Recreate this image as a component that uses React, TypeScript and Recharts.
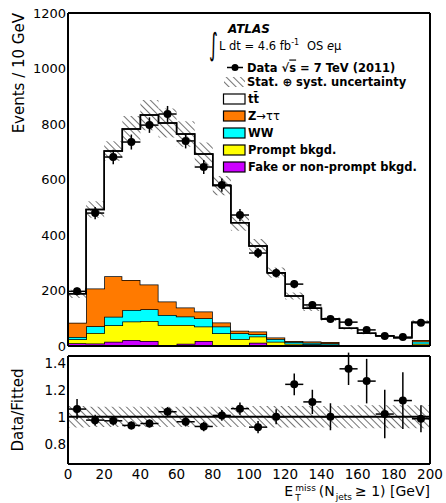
import React from 'react';
import { ComposedChart, Area, Line, Scatter, XAxis, YAxis, ErrorBar, ReferenceLine } from 'recharts';

// bins of 10 GeV, 0-200
const binEdges = [0, 10, 20, 30, 40, 50, 60, 70, 80, 90, 100, 110, 120, 130, 140, 150, 160, 170, 180, 190, 200];
const binCenters = [5, 15, 25, 35, 45, 55, 65, 75, 85, 95, 105, 115, 125, 135, 145, 155, 165, 175, 185, 195];

// stacked MC contributions (bottom to top)
const fakeBkg = [10, 9, 15, 22, 18, 4, 8, 18, 2, 2, 12, 2, 1, 1, 1, 0.5, 0.5, 0.5, 0.5, 2];
const promptBkg = [14, 38, 60, 66, 72, 72, 68, 52, 44, 23, 22, 13, 7, 5, 4, 1, 1, 1, 1, 6];
const wwBkg = [8, 24, 30, 42, 42, 36, 30, 30, 24, 21, 8, 10, 6, 6, 5, 1, 0.5, 0.5, 0.5, 8];
const zttBkg = [52, 136, 146, 108, 90, 48, 33, 24, 15, 9, 10, 6, 4, 4, 4, 1, 0.5, 0.5, 0.5, 6];
const ttbar = [104, 285, 452, 544, 610, 644, 625, 568, 493, 389, 308, 233, 162, 120, 83, 60.5, 43.5, 34.5, 27.5, 64];
const mcUnc = [0.08, 0.06, 0.05, 0.06, 0.065, 0.065, 0.06, 0.06, 0.06, 0.065, 0.07, 0.07, 0.07, 0.07, 0.07, 0.075, 0.075, 0.08, 0.08, 0.08];

// data
const dataCounts = [197, 479, 681, 735, 796, 836, 739, 645, 580, 472, 335, 263, 223, 148, 97, 86, 58, 36, 32, 84];
const dataErr = [14, 22, 26, 27, 28, 29, 27, 25, 24, 22, 18, 16, 15, 12, 10, 9, 8, 6, 6, 9];

// ratio panel
const ratio = [1.057, 0.975, 0.97, 0.936, 0.95, 1.037, 0.963, 0.928, 1.01, 1.06, 0.923, 1.0, 1.24, 1.11, 1.0, 1.355, 1.264, 1.02, 1.12, 0.985];
const ratioErr = [0.075, 0.04, 0.035, 0.03, 0.03, 0.035, 0.035, 0.035, 0.04, 0.045, 0.045, 0.055, 0.08, 0.09, 0.1, 0.12, 0.165, 0.18, 0.21, 0.1];
const ratioBand = [0.08, 0.075, 0.075, 0.075, 0.075, 0.075, 0.075, 0.075, 0.075, 0.075, 0.08, 0.08, 0.08, 0.08, 0.08, 0.085, 0.085, 0.085, 0.085, 0.085];

const xMajorTicks = [0, 20, 40, 60, 80, 100, 120, 140, 160, 180, 200];
const xMinorTicks = [0, 10, 20, 30, 40, 50, 60, 70, 80, 90, 100, 110, 120, 130, 140, 150, 160, 170, 180, 190, 200];
const yTopTicks = [0, 200, 400, 600, 800, 1000, 1200];
const yTopMinorTicks = [0, 50, 100, 150, 200, 250, 300, 350, 400, 450, 500, 550, 600, 650, 700, 750, 800, 850, 900, 950, 1000, 1050, 1100, 1150, 1200];
const yRatioTicks = [0.8, 1, 1.2, 1.4];
const yRatioMinorTicks = [0.7, 0.8, 0.9, 1, 1.1, 1.2, 1.3, 1.4];

const COLORS = { tt: '#ffffff', ztt: '#ff7a00', ww: '#00ffff', prompt: '#ffff00', fake: '#cc00ff' };
const FONT = '"DejaVu Sans", sans-serif';

const halfBin = (binEdges[1] - binEdges[0]) / 2;

const histRows = binEdges.map((x, i) => {
  const k = Math.min(i, binCenters.length - 1);
  const total = fakeBkg[k] + promptBkg[k] + wwBkg[k] + zttBkg[k] + ttbar[k];
  return {
    x,
    fake: fakeBkg[k],
    prompt: promptBkg[k],
    ww: wwBkg[k],
    ztt: zttBkg[k],
    tt: ttbar[k],
    total,
    band: [total * (1 - mcUnc[k]), total * (1 + mcUnc[k])],
  };
});

const dataPoints = binCenters.map((x, i) => ({ x, y: dataCounts[i], ey: dataErr[i], ex: halfBin }));

const ratioRows = binEdges.map((x, i) => {
  const k = Math.min(i, binCenters.length - 1);
  return { x, band: [1 - ratioBand[k], 1 + ratioBand[k]] };
});

const ratioPoints = binCenters.map((x, i) => ({ x, y: ratio[i], ey: ratioErr[i], ex: halfBin }));

const legendItems = [
  { key: 'tt', label: 'tt\u0304', fill: COLORS.tt },
  { key: 'ztt', label: 'Z', fill: COLORS.ztt },
  { key: 'ww', label: 'WW', fill: COLORS.ww },
  { key: 'prompt', label: 'Prompt bkgd.', fill: COLORS.prompt },
  { key: 'fake', label: 'Fake or non-prompt bkgd.', fill: COLORS.fake },
];

// inner ROOT-style ticks and the frame, drawn with mirrored axes
function frameAxes(
  yDomain: [number, number],
  yMajor: number[],
  yMinor: number[],
  xLen: [number, number],
  yLen: [number, number]
) {
  const tl = { stroke: '#000', strokeWidth: 1 };
  const border = { stroke: '#000', strokeWidth: 2 };
  const xCommon = { type: 'number' as const, domain: [0, 200], allowDataOverflow: true, mirror: true, height: 1, tick: false as const, interval: 0 as const };
  const yCommon = { type: 'number' as const, domain: yDomain, allowDataOverflow: true, mirror: true, width: 1, tick: false as const, interval: 0 as const };
  return [
    <XAxis key="xb1" xAxisId="xb1" orientation="bottom" {...xCommon} ticks={xMajorTicks} tickSize={xLen[0]} tickLine={tl} axisLine={border} />,
    <XAxis key="xb2" xAxisId="xb2" orientation="bottom" {...xCommon} ticks={xMinorTicks} tickSize={xLen[1]} tickLine={tl} axisLine={false} />,
    <XAxis key="xt1" xAxisId="xt1" orientation="top" {...xCommon} ticks={xMajorTicks} tickSize={xLen[0]} tickLine={tl} axisLine={border} />,
    <XAxis key="xt2" xAxisId="xt2" orientation="top" {...xCommon} ticks={xMinorTicks} tickSize={xLen[1]} tickLine={tl} axisLine={false} />,
    <YAxis key="yl1" yAxisId="yl1" orientation="left" {...yCommon} ticks={yMajor} tickSize={yLen[0]} tickLine={tl} axisLine={border} />,
    <YAxis key="yl2" yAxisId="yl2" orientation="left" {...yCommon} ticks={yMinor} tickSize={yLen[1]} tickLine={tl} axisLine={false} />,
    <YAxis key="yr1" yAxisId="yr1" orientation="right" {...yCommon} ticks={yMajor} tickSize={yLen[0]} tickLine={tl} axisLine={border} />,
    <YAxis key="yr2" yAxisId="yr2" orientation="right" {...yCommon} ticks={yMinor} tickSize={yLen[1]} tickLine={tl} axisLine={false} />,
  ];
}

function Hatch({ id }: { id: string }) {
  return (
    <pattern id={id} patternUnits="userSpaceOnUse" width={5} height={5} patternTransform="rotate(-45)">
      <line x1={0} y1={0} x2={0} y2={5} stroke="#000" strokeWidth={1.1} />
    </pattern>
  );
}

const dot = (p: any) => <circle cx={p.cx} cy={p.cy} r={4} fill="#000" />;

function Legend() {
  const rowY = [99, 116, 133, 150, 167];
  return (
    <svg width={446} height={503} style={{ position: 'absolute', left: 0, top: 0, pointerEvents: 'none' }} fontFamily={FONT}>
      <defs>
        <Hatch id="hatchLegend" />
      </defs>
      {/* axis titles */}
      <text transform="translate(24,13) rotate(-90)" textAnchor="end" fontSize={15}>Events / 10 GeV</text>
      <text transform="translate(23,410) rotate(-90)" textAnchor="middle" fontSize={15}>Data/Fitted</text>

      <text x={228} y={33} fontSize={12} fontWeight="bold" fontStyle="italic">ATLAS</text>
      <text transform="translate(209,55) scale(1,1.8)" fontSize={17}>∫</text>
      <text x={219} y={50} fontSize={11.5}>
        L dt = 4.6 fb<tspan fontSize={8} dy={-5}>-1</tspan>
        <tspan x={307} dy={5}>OS </tspan>
        <tspan fontStyle="italic">e</tspan>μ
      </text>

      <line x1={227} y1={67.5} x2={243} y2={67.5} stroke="#000" strokeWidth={1.5} />
      <circle cx={235} cy={67.5} r={3.5} fill="#000" />
      <text x={247} y={71.5} fontSize={11.5} fontWeight="bold">
        Data  √<tspan textDecoration="overline">s</tspan> = 7 TeV (2011)
      </text>

      <rect x={224} y={77} width={21} height={10} fill="url(#hatchLegend)" />
      <text x={247} y={86} fontSize={11.5} fontWeight="bold">Stat. ⊕ syst. uncertainty</text>

      {legendItems.map((it, i) => (
        <g key={it.key}>
          <rect x={223.5} y={rowY[i] - 5} width={21.5} height={10} fill={it.fill} stroke="#000" strokeWidth={1.2} />
          <text x={248} y={rowY[i] + 4} fontSize={11.5} fontWeight="bold">
            {it.label}
            {it.key === 'ztt' ? <tspan fontWeight="normal">→ττ</tspan> : null}
          </text>
        </g>
      ))}
    </svg>
  );
}

export default function App() {
  return (
    <div style={{ position: 'absolute', left: 0, top: 0, width: 446, height: 503, background: '#fff', fontFamily: FONT, overflow: 'hidden' }}>
      <div style={{ position: 'absolute', left: 0, top: 0 }}>
        <ComposedChart width={446} height={356} data={histRows} margin={{ top: 13, right: 16, bottom: 10, left: 0 }}>
          <defs>
            <Hatch id="hatchTop" />
          </defs>
          {frameAxes([0, 1200], yTopTicks, yTopMinorTicks, [9, 5], [13, 7])}
          <XAxis dataKey="x" type="number" domain={[0, 200]} allowDataOverflow hide />
          <YAxis
            type="number"
            domain={[0, 1200]}
            allowDataOverflow
            ticks={yTopTicks}
            interval={0}
            width={68}
            tickSize={0}
            tickMargin={2}
            tickLine={false}
            axisLine={false}
            tick={{ fontSize: 13, fill: '#000', fontFamily: FONT }}
          />
          <Area dataKey="fake" stackId="mc" type="stepAfter" fill={COLORS.fake} fillOpacity={1} stroke="#000" strokeWidth={1.5} isAnimationActive={false} />
          <Area dataKey="prompt" stackId="mc" type="stepAfter" fill={COLORS.prompt} fillOpacity={1} stroke="#000" strokeWidth={1.5} isAnimationActive={false} />
          <Area dataKey="ww" stackId="mc" type="stepAfter" fill={COLORS.ww} fillOpacity={1} stroke="#000" strokeWidth={1.5} isAnimationActive={false} />
          <Area dataKey="ztt" stackId="mc" type="stepAfter" fill={COLORS.ztt} fillOpacity={1} stroke="#000" strokeWidth={1.5} isAnimationActive={false} />
          <Area dataKey="tt" stackId="mc" type="stepAfter" fill={COLORS.tt} fillOpacity={1} stroke="#000" strokeWidth={1.5} isAnimationActive={false} />
          <Area dataKey="band" type="stepAfter" fill="url(#hatchTop)" fillOpacity={1} stroke="none" isAnimationActive={false} />
          <Line dataKey="total" type="stepAfter" stroke="#000" strokeWidth={1.5} dot={false} isAnimationActive={false} />
          <Scatter data={dataPoints} dataKey="y" shape={dot} isAnimationActive={false}>
            <ErrorBar dataKey="ex" direction="x" width={0} stroke="#000" strokeWidth={1.5} isAnimationActive={false} />
            <ErrorBar dataKey="ey" direction="y" width={0} stroke="#000" strokeWidth={1.5} isAnimationActive={false} />
          </Scatter>
        </ComposedChart>
      </div>

      <div style={{ position: 'absolute', left: 0, top: 352 }}>
        <ComposedChart width={446} height={151} data={ratioRows} margin={{ top: 4, right: 16, bottom: 9, left: 0 }}>
          <defs>
            <Hatch id="hatchLow" />
          </defs>
          {frameAxes([0.65, 1.45], yRatioTicks, yRatioMinorTicks, [8, 4], [10, 5])}
          <XAxis
            dataKey="x"
            type="number"
            domain={[0, 200]}
            allowDataOverflow
            ticks={xMajorTicks}
            interval={0}
            height={30}
            tickSize={0}
            tickMargin={5}
            tickLine={false}
            axisLine={false}
            tick={{ fontSize: 13.5, fill: '#000', fontFamily: FONT }}
          />
          <YAxis
            type="number"
            domain={[0.65, 1.45]}
            allowDataOverflow
            ticks={yRatioTicks}
            interval={0}
            width={68}
            tickSize={0}
            tickMargin={2}
            tickLine={false}
            axisLine={false}
            tick={{ fontSize: 13.5, fill: '#000', fontFamily: FONT }}
          />
          <Area dataKey="band" type="stepAfter" fill="url(#hatchLow)" fillOpacity={1} stroke="none" isAnimationActive={false} />
          <ReferenceLine y={1} stroke="#000" strokeWidth={2} />
          <Scatter data={ratioPoints} dataKey="y" shape={dot} isAnimationActive={false}>
            <ErrorBar dataKey="ex" direction="x" width={0} stroke="#000" strokeWidth={1.5} isAnimationActive={false} />
            <ErrorBar dataKey="ey" direction="y" width={0} stroke="#000" strokeWidth={1.5} isAnimationActive={false} />
          </Scatter>
        </ComposedChart>
      </div>

      <Legend />

      <div style={{ position: 'absolute', right: 16, top: 483.5, display: 'flex', alignItems: 'flex-start', fontSize: 14, lineHeight: '14px', whiteSpace: 'pre', color: '#000' }}>
        <span>E</span>
        <span style={{ display: 'flex', flexDirection: 'column', alignItems: 'flex-start', fontSize: 9, lineHeight: '9px', marginLeft: 2, marginRight: 3 }}>
          <span>miss</span>
          <span style={{ marginTop: 1.5 }}>T</span>
        </span>
        <span>(N</span>
        <span style={{ fontSize: 9, lineHeight: '9px', marginTop: 9, marginLeft: 1, marginRight: 3 }}>jets</span>
        <span>≥ 1) [GeV]</span>
      </div>
    </div>
  );
}
